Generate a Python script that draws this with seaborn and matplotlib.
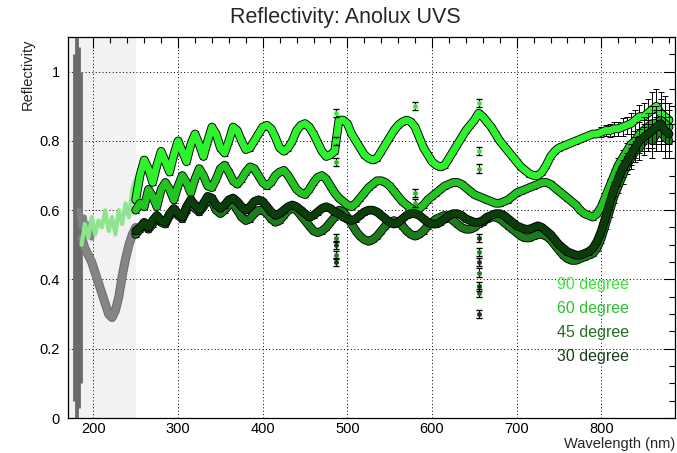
import numpy as np
import matplotlib
matplotlib.use("Agg")
import matplotlib.pyplot as plt
import matplotlib.patheffects as pe
from matplotlib.ticker import MultipleLocator, FuncFormatter
import seaborn as sns

# wavelength grid (nm) for the main measurement, read every 5 nm
wl = np.arange(250, 885, 5)

r90 = [0.63, 0.70, 0.745, 0.72, 0.68, 0.73, 0.77, 0.74, 0.71, 0.76,
       0.80, 0.77, 0.74, 0.79, 0.82, 0.79, 0.755, 0.80, 0.84, 0.82,
       0.78, 0.765, 0.80, 0.84, 0.83, 0.80, 0.775, 0.78, 0.80, 0.82,
       0.84, 0.845, 0.835, 0.81, 0.78, 0.77, 0.78, 0.80, 0.83, 0.845,
       0.85, 0.84, 0.82, 0.795, 0.77, 0.755, 0.76, 0.77, 0.86, 0.86,
       0.85, 0.82, 0.80, 0.78, 0.76, 0.75, 0.745, 0.75, 0.77, 0.79,
       0.81, 0.83, 0.845, 0.855, 0.86, 0.855, 0.84, 0.81, 0.78, 0.76,
       0.74, 0.73, 0.725, 0.73, 0.75, 0.77, 0.79, 0.81, 0.83, 0.845,
       0.86, 0.88, 0.87, 0.855, 0.84, 0.82, 0.80, 0.785, 0.77, 0.755,
       0.74, 0.725, 0.715, 0.705, 0.70, 0.70, 0.71, 0.73, 0.755, 0.77,
       0.78, 0.785, 0.79, 0.795, 0.80, 0.805, 0.81, 0.815, 0.82, 0.82,
       0.825, 0.83, 0.83, 0.835, 0.835, 0.84, 0.845, 0.85, 0.86, 0.87,
       0.87, 0.88, 0.89, 0.90, 0.88, 0.87, 0.86]

r60 = [0.60, 0.62, 0.61, 0.66, 0.64, 0.61, 0.66, 0.68, 0.66, 0.63,
       0.67, 0.70, 0.68, 0.65, 0.69, 0.72, 0.70, 0.67, 0.665, 0.69,
       0.72, 0.73, 0.71, 0.685, 0.675, 0.69, 0.71, 0.725, 0.72, 0.70,
       0.68, 0.67, 0.68, 0.70, 0.71, 0.715, 0.70, 0.68, 0.66, 0.65,
       0.645, 0.66, 0.68, 0.695, 0.70, 0.69, 0.67, 0.65, 0.635, 0.625,
       0.615, 0.61, 0.62, 0.635, 0.65, 0.665, 0.675, 0.685, 0.685, 0.68,
       0.67, 0.655, 0.64, 0.625, 0.615, 0.605, 0.60, 0.605, 0.615, 0.63,
       0.64, 0.65, 0.66, 0.67, 0.675, 0.68, 0.68, 0.675, 0.665, 0.655,
       0.645, 0.64, 0.635, 0.63, 0.625, 0.62, 0.62, 0.625, 0.63, 0.64,
       0.65, 0.655, 0.66, 0.665, 0.67, 0.675, 0.68, 0.68, 0.675, 0.665,
       0.655, 0.645, 0.635, 0.625, 0.615, 0.60, 0.59, 0.585, 0.58, 0.59,
       0.61, 0.64, 0.67, 0.70, 0.73, 0.75, 0.77, 0.79, 0.80, 0.82,
       0.83, 0.84, 0.85, 0.85, 0.86, 0.85, 0.84]

r45 = [0.53, 0.545, 0.56, 0.545, 0.56, 0.58, 0.565, 0.56, 0.585, 0.60,
       0.585, 0.575, 0.60, 0.62, 0.605, 0.595, 0.61, 0.63, 0.625, 0.60,
       0.59, 0.60, 0.615, 0.62, 0.60, 0.58, 0.57, 0.575, 0.59, 0.60,
       0.60, 0.59, 0.575, 0.565, 0.57, 0.585, 0.60, 0.605, 0.60, 0.585,
       0.57, 0.555, 0.54, 0.535, 0.54, 0.55, 0.565, 0.58, 0.60, 0.595,
       0.58, 0.56, 0.54, 0.525, 0.515, 0.51, 0.515, 0.525, 0.54, 0.555,
       0.565, 0.57, 0.565, 0.555, 0.54, 0.53, 0.525, 0.53, 0.54, 0.555,
       0.565, 0.575, 0.58, 0.585, 0.58, 0.57, 0.56, 0.55, 0.545, 0.545,
       0.55, 0.56, 0.565, 0.575, 0.58, 0.58, 0.575, 0.565, 0.555, 0.545,
       0.535, 0.525, 0.52, 0.52, 0.525, 0.53, 0.53, 0.525, 0.515, 0.50,
       0.485, 0.47, 0.46, 0.455, 0.455, 0.46, 0.465, 0.47, 0.475, 0.49,
       0.52, 0.56, 0.60, 0.64, 0.67, 0.70, 0.73, 0.75, 0.77, 0.78,
       0.80, 0.81, 0.80, 0.82, 0.83, 0.81, 0.80]

r30 = [0.54, 0.55, 0.565, 0.55, 0.57, 0.585, 0.57, 0.565, 0.59, 0.605,
       0.59, 0.58, 0.61, 0.63, 0.615, 0.60, 0.62, 0.64, 0.635, 0.615,
       0.605, 0.615, 0.63, 0.635, 0.625, 0.61, 0.60, 0.61, 0.625, 0.63,
       0.625, 0.61, 0.595, 0.585, 0.59, 0.60, 0.61, 0.615, 0.61, 0.60,
       0.59, 0.58, 0.585, 0.595, 0.605, 0.61, 0.605, 0.595, 0.59, 0.58,
       0.575, 0.57, 0.575, 0.585, 0.595, 0.60, 0.60, 0.595, 0.585, 0.575,
       0.565, 0.56, 0.565, 0.575, 0.585, 0.59, 0.59, 0.585, 0.575, 0.565,
       0.56, 0.56, 0.565, 0.575, 0.585, 0.59, 0.59, 0.585, 0.575, 0.57,
       0.565, 0.565, 0.57, 0.58, 0.585, 0.59, 0.59, 0.585, 0.575, 0.565,
       0.555, 0.55, 0.545, 0.545, 0.55, 0.555, 0.55, 0.54, 0.53, 0.515,
       0.50, 0.49, 0.48, 0.475, 0.47, 0.47, 0.475, 0.48, 0.49, 0.51,
       0.54, 0.58, 0.62, 0.66, 0.69, 0.72, 0.74, 0.76, 0.78, 0.80,
       0.81, 0.82, 0.83, 0.84, 0.85, 0.83, 0.82]

# error bars: small below 800 nm, growing in the red end
err_tail = [0.015, 0.015, 0.02, 0.02, 0.02, 0.025, 0.025, 0.03, 0.03,
            0.035, 0.04, 0.04, 0.05, 0.05, 0.06, 0.06, 0.05]
err = np.r_[np.full(len(wl) - len(err_tail), 0.008), err_tail]

# stray points at the lamp lines
o90_wl = [486, 486, 580, 656, 656]
o90_r = [0.88, 0.80, 0.90, 0.91, 0.77]
o60_wl = [486, 580, 580, 656]
o60_r = [0.74, 0.65, 0.62, 0.72]
o45_wl = [486, 486, 656, 656, 656]
o45_r = [0.52, 0.47, 0.48, 0.42, 0.36]
o30_wl = [486, 486, 656, 656, 656, 656]
o30_r = [0.50, 0.45, 0.52, 0.45, 0.38, 0.30]

# deep UV part (shaded region)
uv_wl = [186, 190, 194, 198, 202, 206, 210, 214, 218, 222, 226, 230, 234, 238, 242, 246, 250]
uv_pale = [0.50, 0.56, 0.52, 0.58, 0.53, 0.57, 0.55, 0.60, 0.54, 0.58, 0.53, 0.60, 0.56, 0.62, 0.58, 0.66, 0.69]
uv_gray = [0.52, 0.49, 0.47, 0.45, 0.42, 0.39, 0.36, 0.33, 0.30, 0.29, 0.31, 0.35, 0.41, 0.46, 0.50, 0.53, 0.55]
uv2_wl = [183, 186, 189, 192, 195, 198]
uv2_r = [0.60, 0.55, 0.58, 0.53, 0.56, 0.52]
col_wl = [177, 179, 181, 183, 185]
col_mid = [0.55, 0.55, 0.55, 0.55, 0.55]
col_half = [0.50, 0.55, 0.55, 0.52, 0.45]

sns.set_theme(style="white")
plt.rcParams['font.family'] = ['Liberation Sans', 'DejaVu Sans']

fig = plt.figure(figsize=(6.77, 4.53), dpi=100)
ax = fig.add_axes([68 / 677, 35 / 453, 607 / 677, 381 / 453])

ax.axvspan(170, 250, color='#f2f2f2', zorder=0, lw=0)

# deep UV data
ax.errorbar(col_wl, col_mid, yerr=col_half, fmt='none', ecolor='#6a6a6a', elinewidth=2.0, zorder=2)
sns.lineplot(x=uv2_wl, y=uv2_r, ax=ax, color='#808080', lw=4, estimator=None, zorder=2)
sns.lineplot(x=uv_wl, y=uv_gray, ax=ax, color='#858585', lw=5, estimator=None, zorder=2,
             path_effects=[pe.Stroke(linewidth=6.5, foreground='#6e6e6e'), pe.Normal()])
sns.lineplot(x=uv_wl, y=uv_pale, ax=ax, color='#8fe58f', lw=3, estimator=None, zorder=2.5)

series = [
    (r90, o90_wl, o90_r, '#2ef22e', '90 degree', '#3ee03e'),
    (r60, o60_wl, o60_r, '#22c422', '60 degree', '#2fbf2f'),
    (r45, o45_wl, o45_r, '#1c7c1c', '45 degree', '#256b25'),
    (r30, o30_wl, o30_r, '#0b3d0b', '30 degree', '#1c3c1c'),
]
for i, (vals, owl, ovals, col, lab, tcol) in enumerate(series):
    z = 3 + i
    ax.errorbar(wl, vals, yerr=err, fmt='none', ecolor='black', elinewidth=0.7,
                capsize=2, capthick=0.7, zorder=z)
    sns.lineplot(x=wl, y=vals, ax=ax, color=col, lw=5, estimator=None, zorder=z + 0.1,
                 path_effects=[pe.Stroke(linewidth=6.3, foreground='black'), pe.Normal()])
    ax.errorbar(owl, ovals, yerr=0.012, fmt='o', ms=2.5, mfc=col, mec=col,
                ecolor='black', elinewidth=0.7, capsize=2, zorder=z + 0.2)

ax.set_xlim(170, 887)
ax.set_ylim(0, 1.1)
ax.set_xlabel('')
ax.set_ylabel('')
ax.xaxis.set_major_locator(MultipleLocator(100))
ax.xaxis.set_minor_locator(MultipleLocator(20))
ax.yaxis.set_major_locator(MultipleLocator(0.2))
ax.yaxis.set_minor_locator(MultipleLocator(0.05))
ax.yaxis.set_major_formatter(FuncFormatter(lambda v, p: '%g' % round(v, 2)))
ax.tick_params(which='both', direction='in', top=True, right=True, colors='black',
               labelsize=10.5, width=0.8)
ax.tick_params(which='major', length=8)
ax.tick_params(which='minor', length=4)
ax.tick_params(axis='y', pad=6)
ax.tick_params(axis='x', pad=3)
ax.grid(True, which='major', color='black', lw=0.7, ls=(0, (1, 2.5)))
ax.set_axisbelow(True)
for s in ax.spines.values():
    s.set_color('black')
    s.set_linewidth(0.9)

fig.text(0.51, 1 - 18 / 453, 'Reflectivity: Anolux UVS', ha='center', va='center', fontsize=15.5)
fig.text(28 / 677, 1 - 38 / 453, 'Reflectivity', rotation=90, ha='center', va='top', fontsize=10.5)
fig.text(675 / 677, 1 - 444 / 453, 'Wavelength (nm)', ha='right', va='center', fontsize=10.5)

for (vals, owl, ovals, col, lab, tcol), ypx in zip(series, [285, 309, 333, 356]):
    fig.text(557 / 677, 1 - ypx / 453, lab, ha='left', va='center', color=tcol, fontsize=11.5)

fig.savefig('out.png', dpi=100)
